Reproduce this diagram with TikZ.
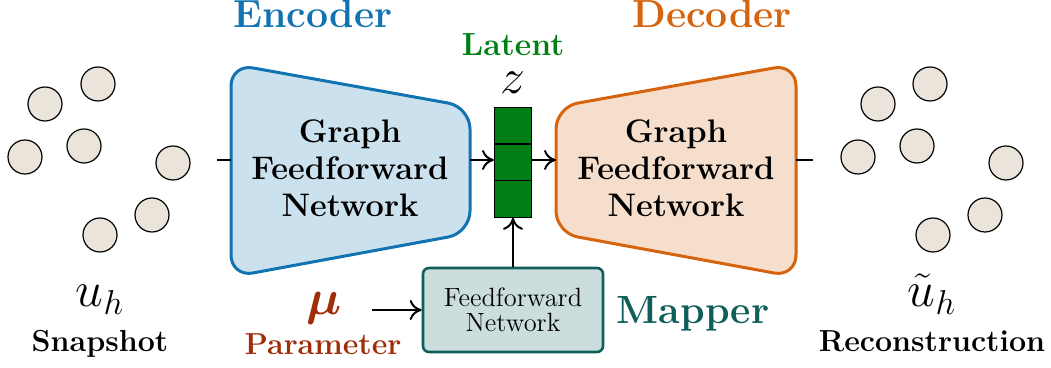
\documentclass[tikz,border=0pt]{standalone}
\usepackage{amsmath,bm}
\usetikzlibrary{arrows.meta}
\definecolor{encblue}{RGB}{17,115,178}
\definecolor{encfill}{RGB}{204,225,238}
\definecolor{decorange}{RGB}{214,100,14}
\definecolor{decfill}{RGB}{246,222,204}
\definecolor{latgreen}{RGB}{0,128,20}
\definecolor{mapteal}{RGB}{14,94,90}
\definecolor{mapfill}{RGB}{203,222,221}
\definecolor{parred}{RGB}{160,45,10}
\definecolor{dotfill}{RGB}{234,228,218}
\begin{document}
\begin{tikzpicture}[x=0.5pt,y=-0.5pt,
  dot/.style={circle,draw=black,fill=dotfill,line width=0.6pt,minimum size=17pt,inner sep=0pt},
  conn/.style={line width=1pt},
  arr/.style={line width=1pt,-{To[length=6pt,width=10pt]}},
  cell/.style={draw=black,fill=latgreen,line width=0.5pt,minimum width=18.5pt,minimum height=18.3pt,inner sep=0pt},
  boxtext/.style={align=center,font=\fontsize{16.3}{18.5}\selectfont\bfseries},
  lbl/.style={anchor=base,inner sep=0pt},
  title/.style={lbl,font=\fontsize{19.6}{21}\selectfont\bfseries},
  caption/.style={lbl,font=\fontsize{15.2}{17}\selectfont\bfseries},
  mathlbl/.style={lbl,font=\fontsize{26}{28}\selectfont}
]
\useasboundingbox (0,0) rectangle (1051,368);

% input dots
\node[dot] (a1) at (45,104) {};
\node[dot] (a2) at (98,84) {};
\node[dot] (a3) at (25,157) {};
\node[dot] (a4) at (84,146) {};
\node[dot] (a5) at (173,163) {};
\node[dot] (a6) at (152,215) {};
\node[dot] (a7) at (100,235) {};
% output dots
\node[dot] (b1) at (878,104) {};
\node[dot] (b2) at (930,84) {};
\node[dot] (b3) at (858,157) {};
\node[dot] (b4) at (917,146) {};
\node[dot] (b5) at (1006,163) {};
\node[dot] (b6) at (985,215) {};
\node[dot] (b7) at (933,235) {};

% encoder
\draw[draw=encblue,fill=encfill,line width=1.5pt,rounded corners=11pt]
  (231,64) -- (470,107) -- (470,233) -- (231,277) -- cycle;
\node[boxtext] (enc) at (350,168) {Graph\\Feedforward\\Network};
% decoder
\draw[draw=decorange,fill=decfill,line width=1.5pt,rounded corners=11pt]
  (556,107) -- (796,64) -- (796,277) -- (556,233) -- cycle;
\node[boxtext] (dec) at (676,168) {Graph\\Feedforward\\Network};

\coordinate (encL) at (231,160);
\coordinate (encR) at (470,160);
\coordinate (decL) at (556,160);
\coordinate (decR) at (796,160);
\coordinate (inS) at (217,160);
\coordinate (outE) at (813,160);

% latent
\node[cell] (z1) at (513,125.5) {};
\node[cell] (z2) at (513,162.5) {};
\node[cell] (z3) at (513,199) {};

% mapper
\node[draw=mapteal,fill=mapfill,line width=1.3pt,rounded corners=3pt,
  minimum width=90pt,minimum height=42pt,inner sep=0pt,align=center,
  font=\fontsize{13.2}{12.5}\selectfont] (map) at (513,310) {Feedforward\\Network};
\coordinate (muE) at (372,310);

% connectors
\draw[conn] (inS) -- (encL);
\draw[arr] (encR) -- (encR -| z2.west);
\draw[arr] (encR -| z2.east) -- (decL);
\draw[conn] (decR) -- (outE);
\draw[arr] (map.north) -- (map.north |- z3.south);
\draw[arr] (muE) -- (map.west);

% labels
\node[title,text=encblue] (tenc) at (313,28) {Encoder};
\node[title,text=decorange] (tdec) at (712,28) {Decoder};
\node[lbl,text=latgreen,font=\fontsize{16}{17}\selectfont\bfseries] (tlat) at (513,56) {Latent};
\node[lbl,font=\fontsize{25}{26}\selectfont] (tz) at (513,94) {$z$};
\node[mathlbl] (tuh) at (100,307) {$u_h$};
\node[mathlbl] (tuth) at (932,307) {$\tilde{u}_h$};
\node[caption] (tsnap) at (100,352) {Snapshot};
\node[caption] (trec) at (932,352) {Reconstruction};
\node[mathlbl,text=parred,font=\fontsize{24}{26}\selectfont] (tmu) at (324,315) {$\bm{\mu}$};
\node[caption,text=parred] (tpar) at (323,355) {Parameter};
\node[lbl,text=mapteal,font=\fontsize{19.7}{21}\selectfont\bfseries] (tmap) at (693,324) {Mapper};
\end{tikzpicture}
\end{document}
